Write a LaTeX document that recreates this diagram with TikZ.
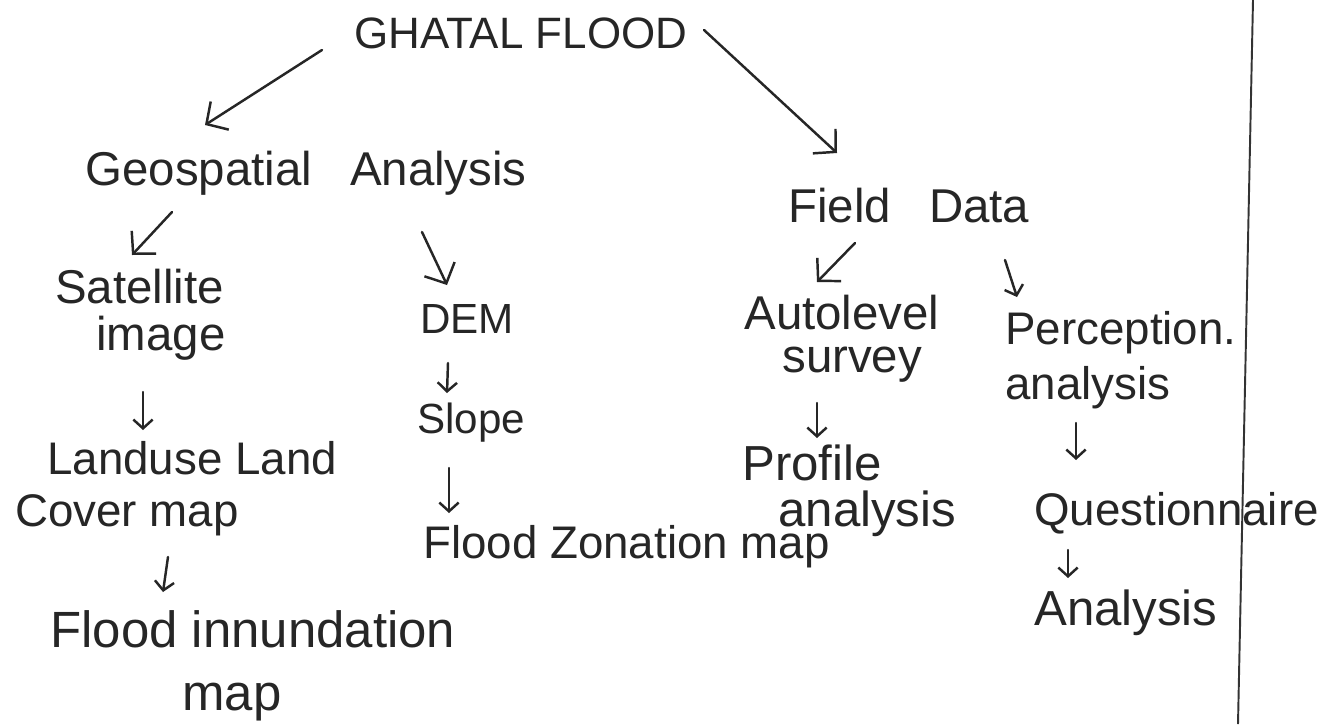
\documentclass[tikz,border=0pt]{standalone}
\usepackage{fontspec}
\setmainfont{Liberation Sans}
\usetikzlibrary{arrows.meta,calc}
\newcommand\fsz[2]{\fontsize{#1}{#2}\selectfont}
\begin{document}
\begin{tikzpicture}[x=0.02cm,y=-0.02cm,
  lbl/.style={inner sep=0pt, text=black!85},
  smallarr/.style={line width=1.4pt, line cap=round, draw=black!85, -{Straight Barb[length=5pt,width=11pt]}},
  bigarr/.style={line width=1.4pt, line cap=round, draw=black!85, -{Straight Barb[length=9pt,width=19pt]}}]
\useasboundingbox (0,0) rectangle (1329,724);
\fill[white] (0,0) rectangle (1329,724);

% nodes
\node[lbl, font=\fsz{25}{30}, anchor=base west] (root) at (354,48) {GHATAL FLOOD};
\node[lbl, font=\fsz{27}{32}, anchor=base west] (geo) at (85,185) {Geospatial\hspace{0.76cm}Analysis};
\node[lbl, font=\fsz{27}{32}, anchor=base west] (field) at (788,222) {Field\hspace{0.76cm}Data};
\node[lbl, font=\fsz{27}{26.7}, align=left, anchor=north west] (sat) at (55,269) {Satellite\\\hspace*{0.82cm}image};
\node[lbl, font=\fsz{24}{28}, anchor=base west] (dem) at (420,333) {DEM};
\node[lbl, font=\fsz{24}{28}, anchor=base west] (slope) at (417,433) {Slope};
\node[lbl, font=\fsz{26}{29.5}, align=left, anchor=north west] (lu) at (15,441.5) {\hspace*{0.64cm}Landuse Land\\Cover map};
\node[lbl, font=\fsz{29}{35.7}, align=left, anchor=north west] (fim) at (50,610) {Flood innundation\\\hspace*{2.64cm}map};
\node[lbl, font=\fsz{26}{30}, anchor=base west] (fzm) at (423,558) {Flood Zonation map};
\node[lbl, font=\fsz{27}{24.4}, align=left, anchor=north west] (auto) at (744,295) {Autolevel\\\hspace*{0.76cm}survey};
\node[lbl, font=\fsz{28}{26.7}, align=left, anchor=north west] (prof) at (742,444) {Profile\\\hspace*{0.72cm}analysis};
\node[lbl, font=\fsz{26}{31}, align=left, anchor=north west] (perc) at (1005,311.5) {Perception.\\analysis};
\node[lbl, font=\fsz{26}{30}, anchor=base west] (quest) at (1034,525) {Questionnaire};
\node[lbl, font=\fsz{28}{32}, anchor=base west] (ana) at (1034,625) {Analysis};

% connectors
\draw[bigarr] ($(root.base west)+(-32,2)$) -- ($(geo.base west)+(120,-60)$);
\draw[bigarr] ($(root.base west)+(350,-18)$) -- ($(field.base west)+(49,-69)$);
\draw[bigarr] ($(geo.base west)+(87,27)$) -- ($(sat.north west)+(77,-14)$);
\draw[bigarr] ($(geo.base west)+(337,47)$) -- ($(dem.base west)+(27,-48)$);
\draw[smallarr] ($(sat.north west)+(88,123)$) -- ($(lu.north west)+(128,-11.5)$);
\draw[smallarr] ($(lu.north west)+(153,115.5)$) -- ($(fim.north west)+(113,-18)$);
\draw[smallarr] ($(dem.base west)+(28,30)$) -- ($(slope.base west)+(30,-40)$);
\draw[smallarr] ($(slope.base west)+(32,35)$) -- ($(fzm.base west)+(26,-45)$);
\draw[bigarr] ($(field.base west)+(67,21)$) -- ($(auto.north west)+(73,-13)$);
\draw[smallarr] ($(field.base west)+(217,38)$) -- ($(perc.north west)+(12,-14.5)$);
\draw[smallarr] ($(auto.north west)+(73,108)$) -- ($(prof.north west)+(75,-6)$);
\draw[smallarr] ($(perc.north west)+(71,111.5)$) -- ($(quest.base west)+(42,-65)$);
\draw[smallarr] ($(quest.base west)+(34,25)$) -- ($(ana.base west)+(34,-47)$);

% margin rule
\draw[line width=1.1pt, black!80] (1253,0) -- (1238,724);
\end{tikzpicture}
\end{document}
